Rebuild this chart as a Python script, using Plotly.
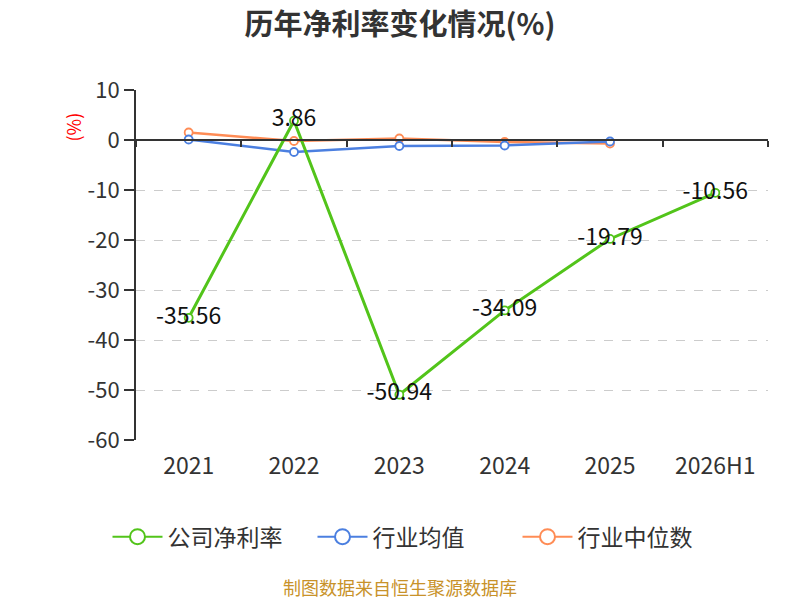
import plotly.graph_objects as go

# 年份 / 报告期
years = ['2021', '2022', '2023', '2024', '2025', '2026H1']
# 公司净利率 (%)
company = [-35.56, 3.86, -50.94, -34.09, -19.79, -10.56]
# 行业均值、行业中位数 (%)，2026H1 无数据
ind_mean = [0.1, -2.4, -1.2, -1.1, -0.3, None]
ind_median = [1.5, -0.2, 0.3, -0.4, -0.7, None]
# y 轴刻度
y_ticks = [10, 0, -10, -20, -30, -40, -50, -60]

series = [
    ('公司净利率', company, '#52c41a', 3),
    ('行业均值', ind_mean, '#4b7fe0', 2.5),
    ('行业中位数', ind_median, '#ff8c55', 2.5),
]

font = 'Noto Sans CJK SC'
page_mid = (400 - 136) / 632  # 页面中线在 paper 坐标中的位置

fig = go.Figure()

# 行业两条线先画，公司净利率在最上层
for name, vals, color, width in reversed(series):
    is_company = name == '公司净利率'
    fig.add_trace(go.Scatter(
        x=years, y=vals, name=name, mode='lines+markers+text' if is_company else 'lines+markers',
        line=dict(color=color, width=width),
        marker=dict(size=8, color='white', line=dict(color=color, width=1.8)),
        text=[f'{v:.2f}' for v in vals] if is_company else None,
        textposition='middle center',
        textfont=dict(size=23, color='#111', family=font),
        showlegend=False, cliponaxis=False,
    ))

# 图例（大号空心圆）
for name, vals, color, width in series:
    fig.add_trace(go.Scatter(
        x=[None], y=[None], name=name, mode='lines+markers',
        line=dict(color=color, width=2),
        marker=dict(size=15, color='white', line=dict(color=color, width=2)),
    ))

# 零轴上的刻度线
fig.add_trace(go.Scatter(x=[None], y=[None], xaxis='x2', showlegend=False))

fig.update_layout(
    width=800, height=600,
    paper_bgcolor='white', plot_bgcolor='white',
    margin=dict(l=136, r=32, t=90, b=160),
    font=dict(family=font, color='#333'),
    title=dict(text='<b>历年净利率变化情况(%)</b>', x=0.5, xanchor='center', y=0.958,
               yanchor='middle', font=dict(size=29, color='#333', family=font)),
    xaxis=dict(type='category', showline=False, ticks='', showgrid=False,
               ticklabelstandoff=10,
               tickfont=dict(size=23, color='#333'), range=[-0.5, 5.5], fixedrange=True),
    xaxis2=dict(overlaying='x', anchor='free', position=6 / 7, range=[-0.5, 5.5],
                tickvals=[-0.5, 0.5, 1.5, 2.5, 3.5, 4.5, 5.5], showticklabels=False,
                ticks='outside', ticklen=6, tickwidth=2, tickcolor='#333',
                showline=True, linecolor='#333', linewidth=2, showgrid=False, zeroline=False),
    yaxis=dict(range=[-60, 10], tickvals=y_ticks, ticktext=[str(v) for v in y_ticks],
               showgrid=True, gridcolor='#cccccc', griddash='dash',
               gridwidth=1.3, zeroline=False, showline=True, linecolor='#333', linewidth=2,
               ticks='outside', ticklen=10, tickwidth=2, tickcolor='#333',
               tickfont=dict(size=22, color='#333')),
    legend=dict(orientation='h', x=page_mid + 15 / 632, xanchor='center', y=-0.215, yanchor='top',
                font=dict(size=23, color='#333'), itemwidth=50, entrywidth=140),
    annotations=[
        dict(text='(%)', xref='paper', yref='paper', x=-0.125, y=0.94, textangle=-90,
             showarrow=False, font=dict(size=18, color='red', family=font)),
        dict(text='制图数据来自恒生聚源数据库', xref='paper', yref='paper', x=page_mid, y=-0.42,
             xanchor='center', yanchor='middle', showarrow=False,
             font=dict(size=18, color='#c8922a', family=font)),
    ],
)

# 去掉页面默认的 body 边距
fig.write_html('out.html', config={'displayModeBar': False},
               post_script="document.body.style.margin='0';")
